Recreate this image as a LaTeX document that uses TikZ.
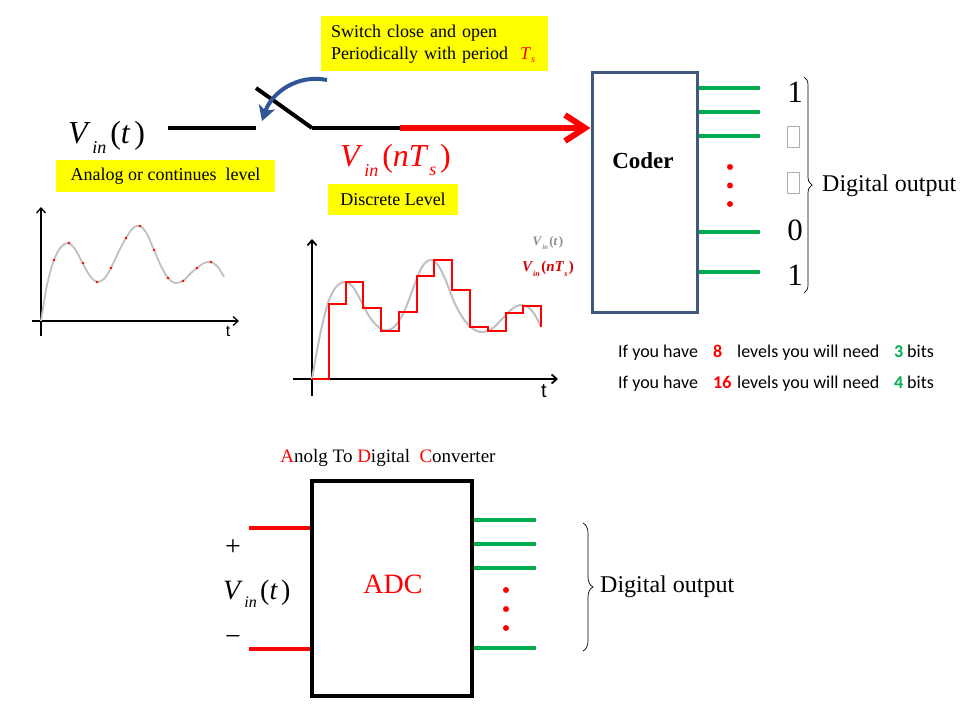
\documentclass[tikz,border=0pt]{standalone}
\usepackage{fontspec}
\setmainfont{Liberation Serif}
\newfontfamily\calib{Carlito}
\newfontfamily\arialf{Liberation Sans}
\usetikzlibrary{arrows.meta,decorations.pathreplacing}
\definecolor{ygold}{RGB}{255,255,0}
\definecolor{gout}{RGB}{0,176,80}
\definecolor{arrblue}{RGB}{47,85,151}
\definecolor{coderedge}{RGB}{62,88,126}
\definecolor{curvegray}{RGB}{192,192,192}
\definecolor{legray}{RGB}{140,140,140}
\newcommand{\fs}[1]{\fontsize{#1}{#1}\selectfont}
\newcommand{\vinsym}[3]{\fs{#1}\textit{V}\kern0.05em\raisebox{-0.32em}{\fs{#2}\textit{in}}\kern0.12em(#3\kern0.12em)}
\begin{document}
\begin{tikzpicture}[x=1pt,y=-1pt,
  ybox/.style={fill=ygold, inner sep=0pt, font=\fs{18}},
  wire/.style={line width=4pt},
  gwire/.style={gout, line width=4pt},
  rwire/.style={red, line width=3.5pt},
  reddot/.style={circle, fill=red, inner sep=0pt, minimum size=6pt},
  sample/.style={circle, fill=red, inner sep=0pt, minimum size=2.8pt},
  axisarrow/.style={line width=1.3pt, -{Straight Barb[length=5pt,width=9pt]}},
  plain/.style={inner sep=0pt},
  bracestyle/.style={decorate, line width=0.7pt}]
\useasboundingbox (0,0) rectangle (960,720);
\fill[white] (0,0) rectangle (960,720);

% ---------- top: switch ----------
\node[ybox, anchor=north west, minimum width=227pt, minimum height=55pt, text width=207pt, align=left] (swnote) at (321,16)
  {Switch close and open\\[4pt]Periodically with period \ \textcolor{red}{\textit{T}\raisebox{-0.2em}{\fs{10}\textit{s}}}};
\node[plain, anchor=base west] (vint) at (68,143) {\vinsym{32}{18}{\textit{t}}};
\node[ybox, minimum width=219pt, minimum height=32pt] (analog) at (165.5,176) {Analog or continues\ \ level};
\node[plain, anchor=base west, text=red] (vinnts) at (340,166) {\vinsym{32}{18}{\textit{nT}\kern0.02em\raisebox{-0.3em}{\fs{18}\textit{s}}}};
\node[ybox, minimum width=130pt, minimum height=31pt] (discrete) at (393,199.5) {Discrete Level};

\coordinate (swA) at (168,128);
\coordinate (swB) at (256,128);
\coordinate (bladeTop) at (256,88);
\coordinate (bladeBot) at (312,128);
\coordinate (rstart) at (400,128);
\draw[wire] (swA) -- (swB);
\draw[wire] (bladeTop) -- (bladeBot);
\draw[wire] (bladeBot) -- (rstart);

\coordinate (ba1) at (327,80);
\coordinate (ba2) at (262,121);
\draw[arrblue, line width=4pt, -{Stealth[length=15pt,width=17pt,inset=4pt]}] (ba1) .. controls (298,74) and (272,92) .. (ba2);

% ---------- coder ----------
\node[draw=coderedge, line width=3pt, minimum width=105pt, minimum height=240pt, inner sep=0pt] (coder) at (644.5,192) {};
\node[plain, font=\fs{23}\bfseries] (codertxt) at (643,161) {Coder};
\draw[red, line width=6pt, -{Straight Barb[length=20pt,width=26pt]}] (rstart) -- (coder.west |- rstart);

\foreach \i/\yy in {1/88,2/112,3/136,4/232,5/272}{
  \coordinate (o\i) at (760,\yy);
  \draw[gwire] (coder.east |- o\i) -- (o\i);
}
\node[reddot] (cd1) at (730,167) {};
\node[reddot] (cd2) at (730,185.5) {};
\node[reddot] (cd3) at (730,204) {};

\node[plain, font=\fs{31}] (b1) at (795,92) {1};
\node[draw=legray!70, line width=0.6pt, minimum width=12pt, minimum height=21pt, inner sep=0pt] (gb1) at (793.5,136.5) {};
\node[draw=legray!70, line width=0.6pt, minimum width=12pt, minimum height=21pt, inner sep=0pt] (gb2) at (793.5,182.5) {};
\node[plain, font=\fs{31}] (b4) at (795,230) {0};
\node[plain, font=\fs{31}] (b5) at (795,275) {1};
\coordinate (br1a) at (804,77);
\coordinate (br1b) at (804,293);
\draw[bracestyle, decoration={brace, amplitude=8pt}] (br1a) -- (br1b);
\node[plain, anchor=west, font=\fs{24}] (digout1) at (822,186) {Digital output};

\node[plain, anchor=west, font=\calib\fs{18}] (lvl8) at (618,353)
  {\makebox[95pt][l]{If you have}\makebox[24pt][l]{\textcolor{red}{\textbf{8}}}\makebox[157pt][l]{levels you will need}\makebox[13pt][l]{\textcolor{gout}{\textbf{3}}}bits};
\node[plain, anchor=west, font=\calib\fs{18}] (lvl16) at (618,384)
  {\makebox[95pt][l]{If you have}\makebox[24pt][l]{\textcolor{red}{\textbf{16}}}\makebox[157pt][l]{levels you will need}\makebox[13pt][l]{\textcolor{gout}{\textbf{4}}}bits};

% ---------- left graph ----------
\coordinate (g1y) at (41,207);
\coordinate (g1yb) at (41,336);
\coordinate (g1xa) at (32,321);
\coordinate (g1x) at (239,321);
\draw[axisarrow] (g1yb) -- (g1y);
\draw[axisarrow] (g1xa) -- (g1x);
\node[plain, font=\arialf\fs{16}] (g1t) at (228,331) {t};
\draw[curvegray, line width=1.8pt] plot[smooth, tension=0.55] coordinates {(41,321) (47,285) (54,260) (61,247) (68,243) (75,249) (82,262) (90,276) (97,282) (104,279) (111,268) (119,251) (126,238) (133,228) (140,226) (147,234) (154,250) (161,266) (168,278) (175,283) (183,281) (190,274) (197,268) (204,263) (211,262) (218,267) (224,277)};
\foreach \xx/\yy [count=\k] in {54/260,69/243,83/263,97/282,111/268,126/238,140/226,154/250,168/278,183/281,197/268,211/262}{
  \node[sample] (s\k) at (\xx,\yy) {};
}

% ---------- middle graph ----------
\coordinate (g2y) at (312,239);
\coordinate (g2yb) at (312,396);
\coordinate (g2xa) at (293,379);
\coordinate (g2x) at (558,379);
\draw[axisarrow, line width=1.8pt] (g2yb) -- (g2y);
\draw[axisarrow, line width=1.8pt] (g2xa) -- (g2x);
\node[plain, font=\arialf\fs{20}] (g2t) at (544,391) {t};
\draw[curvegray, line width=2pt] plot[smooth, tension=0.55] coordinates {(312,379) (320,335) (328,303) (336,287) (345,282) (353,287) (361,301) (371,319) (383,330) (394,327) (404,312) (414,286) (422,267) (430,260) (438,265) (446,281) (455,304) (465,321) (475,330) (483,332) (493,328) (503,318) (512,309) (520,305) (528,307) (535,315) (541,327)};
\draw[red, line width=2pt, line join=miter] (312,379) -- (329,379) -- (329,304) -- (346,304) -- (346,282) -- (363,282) -- (363,308) -- (381,308) -- (381,331) -- (399,331) -- (399,312) -- (417,312) -- (417,276) -- (434,276) -- (434,260) -- (452,260) -- (452,290) -- (470,290) -- (470,327) -- (488,327) -- (488,331) -- (506,331) -- (506,313) -- (523,313) -- (523,306) -- (541,306) -- (541,327);
\node[plain, text=legray, font=\bfseries] (leg1) at (548,243) {\fs{13}\textit{V}\raisebox{-0.3em}{\fs{7}\textit{in}}\kern0.1em(\textit{t}\kern0.1em)};
\node[plain, text=red!85!black, font=\bfseries] (leg2) at (548,269) {\fs{15}\textit{V}\raisebox{-0.3em}{\fs{8}\textit{in}}\kern0.1em(\textit{nT}\raisebox{-0.3em}{\fs{8}\textit{s}}\kern0.1em)};

% ---------- bottom ADC ----------
\node[plain, font=\fs{19}] (adctitle) at (388,458) {\textcolor{red}{A}nolg To \textcolor{red}{D}igital\ \ \textcolor{red}{C}onverter};
\node[draw, line width=4pt, minimum width=160pt, minimum height=215pt, inner sep=0pt] (adc) at (392,588.5) {};
\node[plain, text=red, font=\fs{28}] (adctxt) at (393,584) {ADC};
\coordinate (in1) at (249,528);
\coordinate (in2) at (249,649);
\draw[rwire] (in1) -- (adc.west |- in1);
\draw[rwire] (in2) -- (adc.west |- in2);
\node[plain, font=\fs{28}] (plus) at (233,548) {+};
\node[plain, font=\fs{28}] (minus) at (233,640) {−};
\node[plain, anchor=base west] (vinb) at (223,599) {\vinsym{28}{16}{\textit{t}}};
\foreach \i/\yy in {1/520,2/544,3/568,4/648}{
  \coordinate (ao\i) at (536,\yy);
  \draw[gwire] (adc.east |- ao\i) -- (ao\i);
}
\node[reddot] (ad1) at (506,590) {};
\node[reddot] (ad2) at (506,609) {};
\node[reddot] (ad3) at (506,628) {};
\coordinate (br2a) at (583,523);
\coordinate (br2b) at (583,651);
\draw[bracestyle, decoration={brace, amplitude=10pt}] (br2a) -- (br2b);
\node[plain, anchor=west, font=\fs{24}] (digout2) at (600,587) {Digital output};
\end{tikzpicture}
\end{document}
